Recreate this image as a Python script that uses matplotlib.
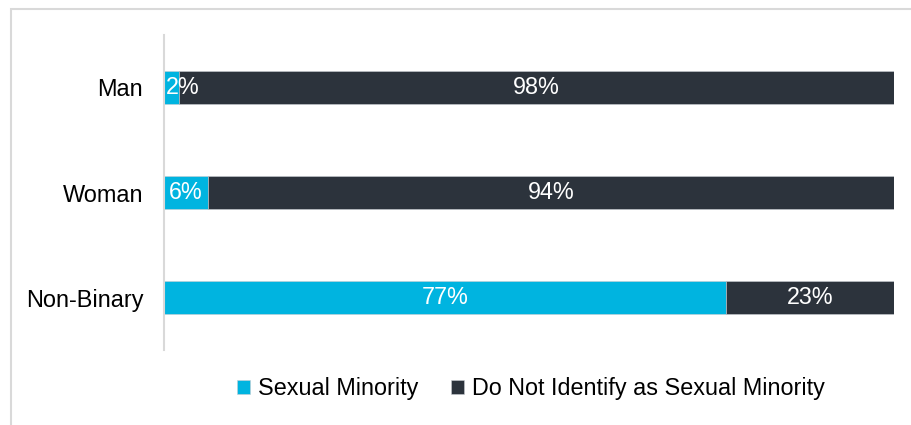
import matplotlib
matplotlib.use("Agg")
import matplotlib.pyplot as plt
from matplotlib.patches import Rectangle

plt.rcParams['font.family'] = ['Liberation Sans', 'DejaVu Sans']

categories = ["Man", "Woman", "Non-Binary"]
sexual_minority = [2, 6, 77]
not_minority = [98, 94, 23]
series_names = ["Sexual Minority", "Do Not Identify as Sexual Minority"]
colors = ["#00B4E0", "#2C333C"]

fig = plt.figure(figsize=(9.11, 4.25), dpi=100)
ax = fig.add_axes([164/911, 75/425, 730/911, 315/425])

# outer frame (right and bottom edges fall outside the canvas)
fig.patches.append(Rectangle((10.5/911, -0.05), 1.2, (425-8.5)/425 + 0.05,
                             transform=fig.transFigure, fill=False,
                             edgecolor="#D9D9D9", linewidth=1.5, zorder=0))

y = list(range(len(categories)))
h = 0.31
fs = 16.8
b1 = ax.barh(y, sexual_minority, height=h, color=colors[0], label=series_names[0],
             edgecolor="#C9CDD2", linewidth=0.4)
b2 = ax.barh(y, not_minority, left=sexual_minority, height=h, color=colors[1],
             label=series_names[1], edgecolor="#C9CDD2", linewidth=0.4)

for i in y:
    v1 = sexual_minority[i]
    v2 = not_minority[i]
    if v1 < 4:
        ax.text(0.2, i, f"{v1}%", ha="left", va="center", color="white", fontsize=fs)
    else:
        ax.text(v1 / 2, i, f"{v1}%", ha="center", va="center", color="white", fontsize=fs)
    ax.text(v1 + v2 / 2, i, f"{v2}%", ha="center", va="center", color="white", fontsize=fs)

ax.set_xlim(0, 100)
ax.set_ylim(2.5, -0.5)
ax.set_yticks(y)
ax.set_yticklabels(categories, fontsize=16.9)
ax.tick_params(axis="y", length=0, pad=15)
ax.set_xticks([])
for s in ["top", "right", "bottom"]:
    ax.spines[s].set_visible(False)
ax.spines["left"].set_color("#D9D9D9")
ax.spines["left"].set_linewidth(1.5)

fig.legend(handles=[b1, b2], labels=series_names, loc="center",
           bbox_to_anchor=(531/911, 1 - 389/425), ncol=2, frameon=False,
           fontsize=fs, handlelength=0.55, handleheight=0.55, handletextpad=0.35,
           columnspacing=1.4)

fig.savefig("out.png", dpi=100)
